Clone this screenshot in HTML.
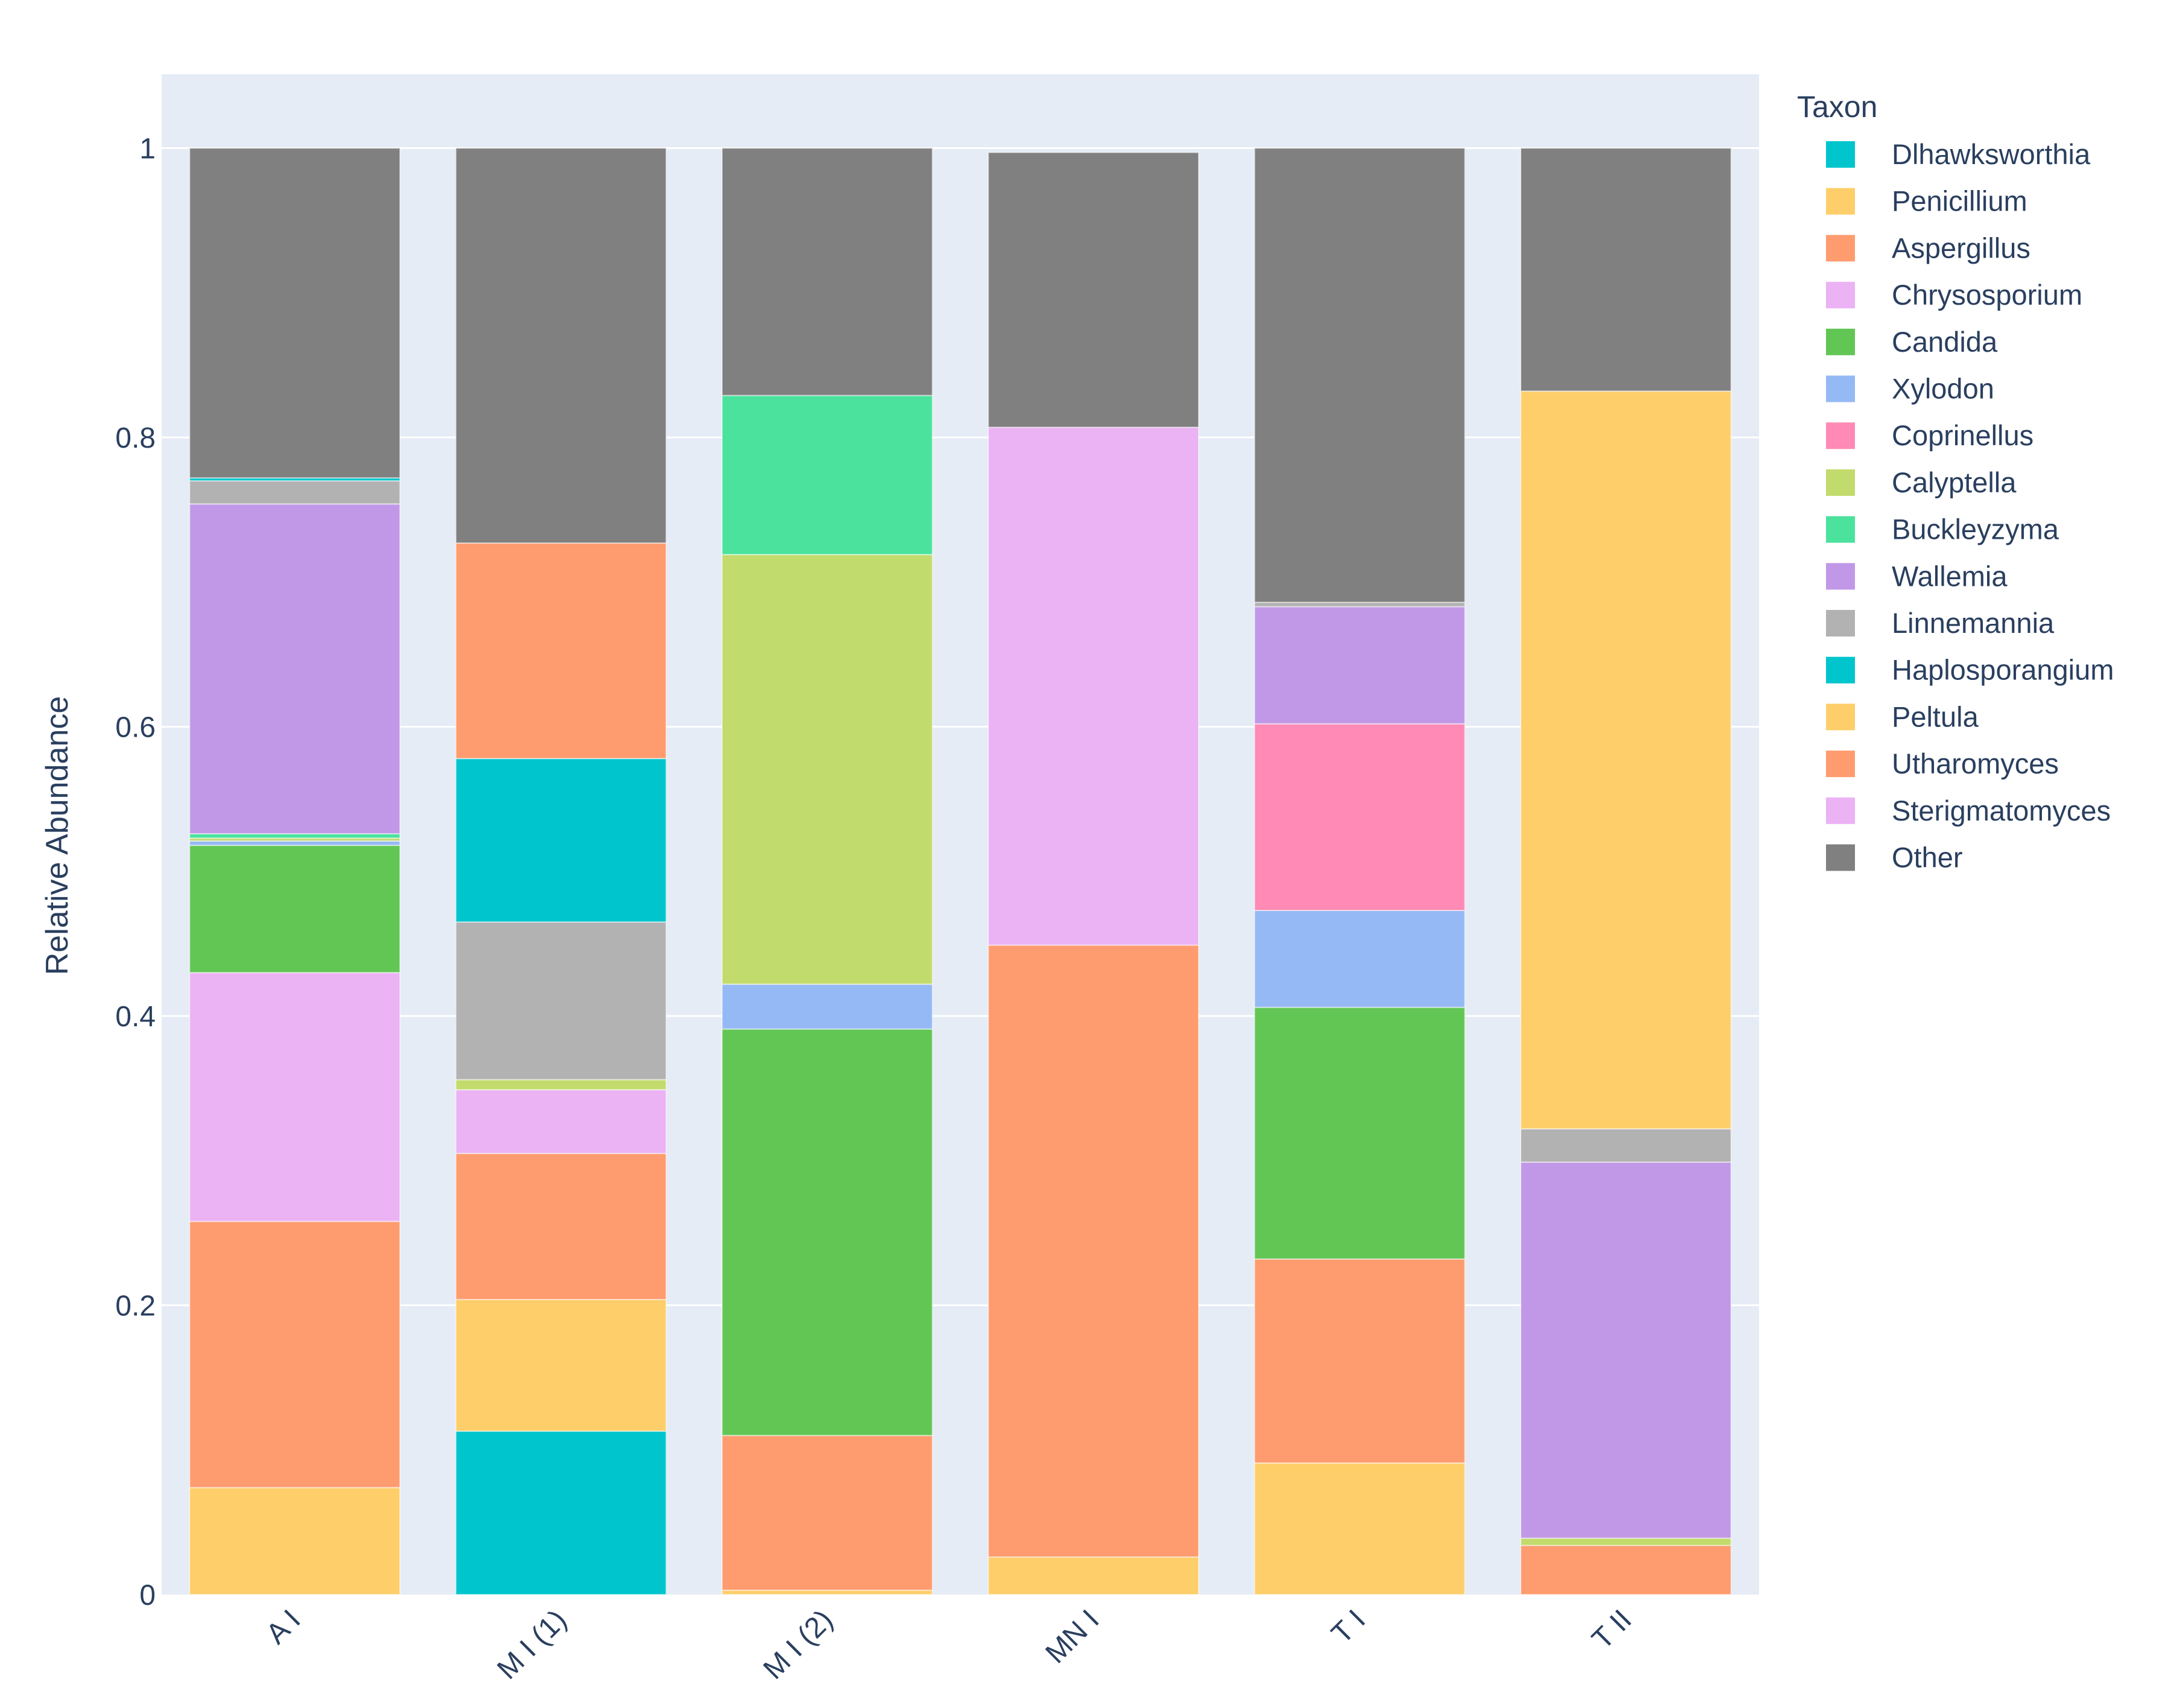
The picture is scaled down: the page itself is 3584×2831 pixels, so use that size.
<!DOCTYPE html>
<html><head><meta charset="utf-8">
<style>
html,body{margin:0;padding:0;background:#fff;}
svg{display:block;font-family:"Liberation Sans",Arial,sans-serif;}
</style></head>
<body>
<svg id="chart" width="3584" height="2831" viewBox="0 0 3584 2831" xmlns="http://www.w3.org/2000/svg">
<rect x="268" y="123" width="2648" height="2520" fill="#E5ECF6"/>
<g id="grid"></g>
<g id="bars"></g>
<g id="yticks"></g>
<g id="xticks"></g>
<text transform="translate(112,1385) rotate(-90)" text-anchor="middle" font-size="52" fill="#2a3f5f">Relative Abundance</text>
<g id="legend">
<text x="2979" y="194" font-size="50" fill="#2a3f5f">Taxon</text>
</g>
</svg>
<script>
const categories = ["A I","M I (1)","M I (2)","MN I","T I","T II"];
const taxa = ["Dlhawksworthia","Penicillium","Aspergillus","Chrysosporium","Candida","Xylodon","Coprinellus","Calyptella","Buckleyzyma","Wallemia","Linnemannia","Haplosporangium","Peltula","Utharomyces","Sterigmatomyces","Other"];
const colors = ["#00C5CD","#FECE6A","#FE9C6F","#EBB2F4","#62C655","#95B9F4","#FE8AB5","#C2DB6D","#4AE29C","#C198E7","#B2B2B2","#00C5CD","#FECE6A","#FE9C6F","#EBB2F4","#808080"];
const dlhawksworthia = [0,0.113,0,0,0,0];
const penicillium = [0.074,0.091,0.003,0.026,0.091,0];
const aspergillus = [0.184,0.101,0.107,0.423,0.141,0.034];
const chrysosporium = [0.172,0.044,0,0.358,0,0];
const candida = [0.088,0,0.281,0,0.174,0];
const xylodon = [0.003,0,0.031,0,0.067,0];
const coprinellus = [0,0,0,0,0.129,0];
const calyptella = [0.002,0.007,0.297,0,0,0.005];
const buckleyzyma = [0.003,0,0.110,0,0,0];
const wallemia = [0.228,0,0,0,0.081,0.260];
const linnemannia = [0.016,0.109,0,0,0.003,0.023];
const haplosporangium = [0.002,0.113,0,0,0,0];
const peltula = [0,0,0,0,0,0.510];
const utharomyces = [0,0.149,0,0,0,0];
const sterigmatomyces = [0,0,0,0,0,0];
const other = [0.228,0.273,0.171,0.190,0.314,0.168];
const yTicks = [0,0.2,0.4,0.6,0.8,1];
const yTickLabels = ["0","0.2","0.4","0.6","0.8","1"];

const series = [dlhawksworthia,penicillium,aspergillus,chrysosporium,candida,xylodon,coprinellus,calyptella,buckleyzyma,wallemia,linnemannia,haplosporangium,peltula,utharomyces,sterigmatomyces,other];
const NS="http://www.w3.org/2000/svg";
const X0=268, X1=2916, Y0=2643, Y1=245.5;
const band=(X1-X0)/categories.length, barW=band*0.79;
function yScale(v){return Y0-(Y0-Y1)*v;}
function xCenter(i){return X0+band*(i+0.5);}
function mk(tag,attrs,parent){const e=document.createElementNS(NS,tag);for(const k in attrs)e.setAttribute(k,attrs[k]);parent.appendChild(e);return e;}

const grid=document.getElementById('grid');
yTicks.forEach((t,i)=>{
  if(t>0){const l=mk('line',{x1:X0,x2:X1,y1:yScale(t),y2:yScale(t),stroke:'#fff','stroke-width':3},grid);
  
  }
  const tx=mk('text',{x:258,y:yScale(t)+17,'text-anchor':'end','font-size':48,fill:'#2a3f5f'},document.getElementById('yticks'));
  tx.textContent=yTickLabels[i];
  
  
});

const bars=document.getElementById('bars');
categories.forEach((c,ci)=>{
  let cum=0;
  series.forEach((s,si)=>{
    const v=s[ci]; if(!v) return;
    const yTop=yScale(cum+v), yBot=yScale(cum);
    const r=mk('rect',{x:xCenter(ci)-barW/2,y:yTop,width:barW,height:yBot-yTop,fill:colors[si],stroke:'rgba(255,255,255,0.5)','stroke-width':2},bars);
    
    
    cum+=v;
  });
  const tx=mk('text',{transform:'translate('+(xCenter(ci)+12)+',2688) rotate(-45)','text-anchor':'end','font-size':48,fill:'#2a3f5f'},document.getElementById('xticks'));
  tx.textContent=c;
  
  
});

const lg=document.getElementById('legend');
taxa.forEach((t,i)=>{
  const cy=256+i*77.7;
  const g=mk('g',{},lg);
  
  
  mk('rect',{x:3027,y:cy-22,width:48,height:44,fill:colors[i]},g);
  const tx=mk('text',{x:3136,y:cy+16,'font-size':47,fill:'#2a3f5f'},g);
  tx.textContent=t;
});
</script>
</body></html>
